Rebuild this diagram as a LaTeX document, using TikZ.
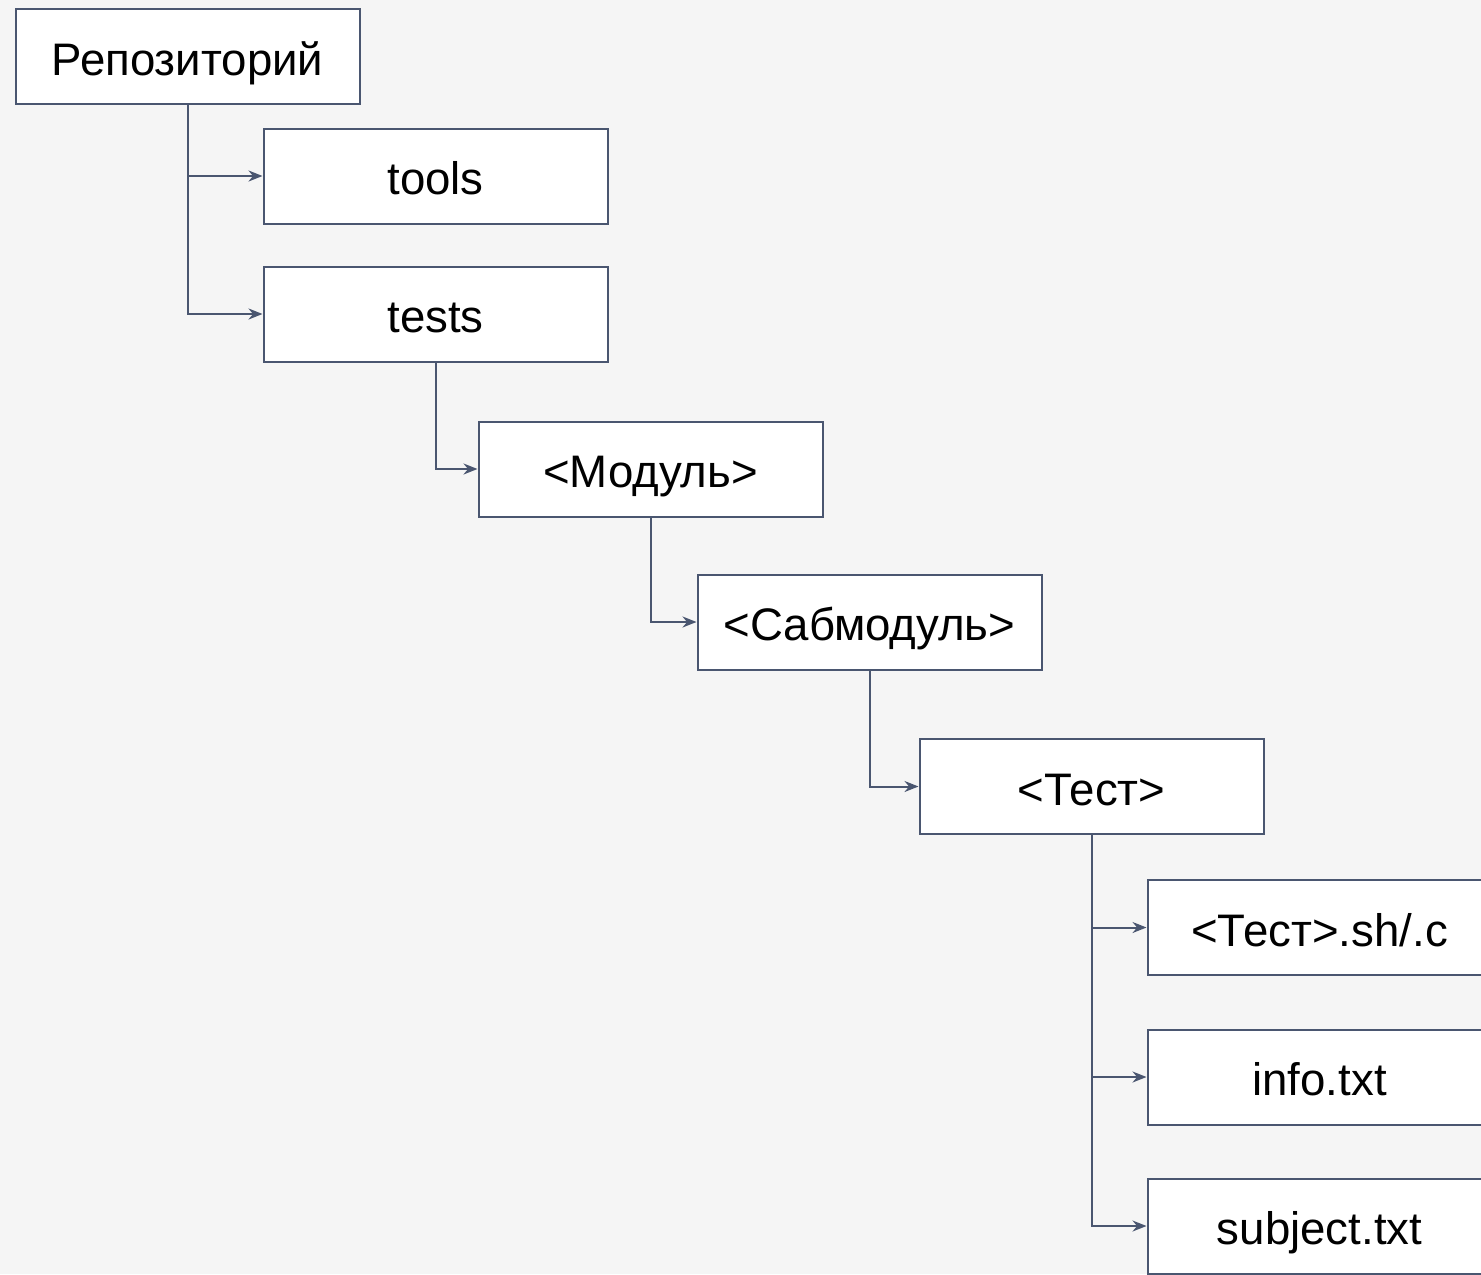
\documentclass[tikz,border=0pt]{standalone}
\usepackage{fontspec}
\setmainfont{Liberation Sans}
\usetikzlibrary{arrows.meta}
\definecolor{edge}{HTML}{4A5670}
\definecolor{paper}{HTML}{F5F5F5}
\tikzset{
	dirbox/.style={draw=edge, fill=white, line width=1pt, minimum width=172pt, minimum height=47.5pt, inner sep=0pt, text height=18.5pt, text depth=0pt, font=\fontsize{22.8}{26}\selectfont},
	link/.style={draw=edge, line width=1pt, -{Stealth[length=7pt, width=5.5pt]}}
}
\begin{document}
\begin{tikzpicture}[x=0.5pt, y=-0.5pt]
	\useasboundingbox (0,0) rectangle (1481,1274);
	\fill[paper] (0,0) rectangle (1481,1274);
	\node[dirbox] (repo) at (187.5,56.5) {Репозиторий};
	\node[dirbox] (tools) at (435.5,176) {tools};
	\node[dirbox] (tests) at (435.5,314) {tests};
	\node[dirbox] (mod) at (650.5,469) {<Модуль>};
	\node[dirbox] (submod) at (869.5,622) {<Сабмодуль>};
	\node[dirbox] (test) at (1091.5,786.5) {<Тест>};
	\node[dirbox] (src) at (1319.5,927.5) {<Тест>.sh/.c};
	\node[dirbox] (info) at (1319.5,1077) {info.txt};
	\node[dirbox] (subj) at (1319.5,1226) {subject.txt};
	\draw[link] (repo.south) |- (tools.west);
	\draw[link] (repo.south) |- (tests.west);
	\draw[link] (tests.south) |- (mod.west);
	\draw[link] (mod.south) |- (submod.west);
	\draw[link] (submod.south) |- (test.west);
	\foreach \f in {src,info,subj} {\draw[link] (test.south) |- (\f.west);}
\end{tikzpicture}
\end{document}
